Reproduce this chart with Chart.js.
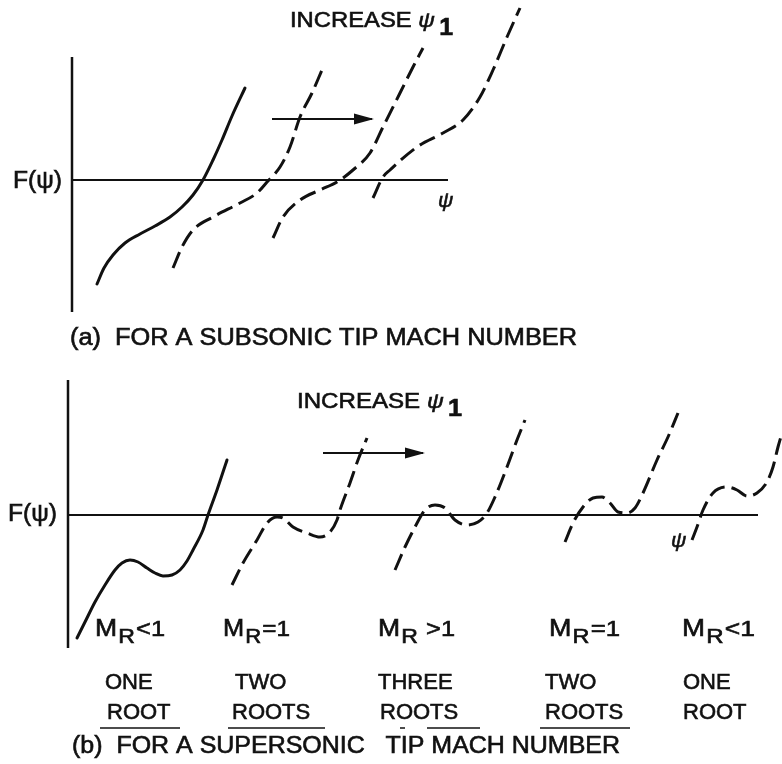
<!DOCTYPE html>
<html>
<head>
<meta charset="utf-8">
<title>F(psi) root sketches</title>
<script src="https://cdn.jsdelivr.net/npm/chart.js@4.4.1/dist/chart.umd.min.js"></script>
<style>
    html, body { margin: 0; padding: 0; background: #fff; }
    #wrap { position: relative; width: 782px; height: 764px; overflow: hidden; }
    #wrap canvas { position: absolute; left: 0; }
    #chartA { top: 0; }
    #chartB { top: 360px; }
</style>
</head>
<body>
<div id="wrap">
    <canvas id="chartA" width="782" height="360"></canvas>
    <canvas id="chartB" width="782" height="404"></canvas>
</div>
<script>
// ---- (a) subsonic tip Mach number: psi to the right, F(psi) up ----
var aSolidPsi = [2.5, 3.2, 4.1, 5.3, 6.8, 8.3, 9.8, 11.0, 12.1, 13.1, 14.1, 15.0, 16.0, 17.3];
var aSolidF   = [-10.4, -8.8, -7.5, -6.3, -5.4, -4.6, -3.7, -2.7, -1.5, 0, 2.0, 4.0, 6.4, 9.2];
var aDash1Psi = [10.1, 11.0, 12.1, 14.1, 16.8, 18.5, 19.5, 20.8, 21.8, 22.8, 24.0, 25.0];
var aDash1F   = [-8.8, -6.7, -5.0, -3.7, -2.3, -1.3, -0.2, 1.3, 3.3, 6.3, 8.7, 11.0];
var aDash2Psi = [20.1, 21.1, 22.8, 24.8, 26.5, 28.1, 29.8, 31.1, 32.8, 34.1, 35.1];
var aDash2F   = [-5.8, -3.7, -2.0, -1.0, -0.2, 1.0, 2.7, 5.3, 8.7, 11.3, 13.2];
var aDash3Psi = [30.1, 31.1, 31.8, 34.5, 37.1, 39.1, 40.8, 42.1, 43.5, 44.8];
var aDash3F   = [-1.8, 0.3, 1.0, 3.3, 4.7, 6.0, 8.3, 11.0, 14.3, 17.2];
var aAxisPsi  = [0, 0];
var aAxisF    = [12.3, -13.2];
var aLinePsi  = [0, 37.6];
var aLineF    = [0, 0];
var aArrowPsi = [20.0, 30.0];
var aArrowF   = [6.1, 6.1];

// ---- (b) supersonic tip Mach number ----
var bSolidPsi = [0.9, 1.7, 2.7, 3.7, 4.7, 5.4, 6.2, 7.0, 7.9, 8.7, 9.5, 10.4, 11.2, 11.9, 12.5, 13.5, 14.0, 14.9, 15.9];
var bSolidF   = [-12.3, -10.7, -8.7, -7.0, -5.5, -4.8, -4.5, -4.7, -5.3, -5.8, -6.1, -6.0, -5.5, -4.6, -3.5, -1.5, 0, 2.5, 5.5];
var bDash1Psi = [16.4, 17.5, 18.9, 19.9, 20.9, 21.5, 22.5, 23.9, 25.2, 26.2, 26.9, 27.2, 28.2, 29.0, 29.9];
var bDash1F   = [-7.0, -4.8, -2.5, -0.8, -0.2, -0.3, -1.2, -1.8, -2.2, -1.7, -0.5, 0.5, 3.2, 5.5, 7.7];
var bDash2Psi = [32.7, 33.7, 34.7, 35.7, 36.7, 37.7, 38.7, 39.9, 41.0, 41.9, 42.7, 43.9, 44.9, 45.7];
var bDash2F   = [-5.5, -3.2, -1.2, 0.5, 1.0, 0.7, -0.5, -1.0, -0.7, 0.2, 1.8, 4.8, 7.5, 9.5];
var bDash3Psi = [49.7, 50.5, 51.5, 52.5, 53.4, 54.2, 55.0, 55.9, 56.7, 57.5, 58.9, 60.0, 61.0];
var bDash3F   = [-2.7, -0.8, 0.8, 1.7, 1.8, 1.2, 0.3, 0.2, 0.7, 2.2, 5.5, 7.8, 10.2];
var bDash4Psi = [62.4, 62.9, 63.5, 64.5, 65.9, 66.9, 67.9, 68.9, 69.9, 70.5, 71.0, 71.4];
var bDash4F   = [-2.5, -1.2, 0.5, 2.2, 2.8, 2.5, 1.9, 2.2, 3.3, 4.8, 6.8, 8.2];
var bAxisPsi  = [0, 0];
var bAxisF    = [13.5, -13.3];
var bLinePsi  = [0, 69.0];
var bLineF    = [0, 0];
var bArrowPsi = [25.5, 35.5];
var bArrowF   = [6.2, 6.2];

// underlines under the ROOT(S) words, [start, end] in psi
var underlinePsi = [[3.2, 11.2], [16.0, 25.7], [33.2, 33.7], [35.9, 41.2], [47.2, 56.2]];

// texts
var mrSigns    = ['<1', '=1', ' >1', '=1', '<1'];
var rootCounts = ['ONE', 'TWO', 'THREE', 'TWO', 'ONE'];
var rootWords  = ['ROOT', 'ROOTS', 'ROOTS', 'ROOTS', 'ROOT'];
var captionA   = '(a)  FOR A SUBSONIC TIP MACH NUMBER';
var captionB   = '(b)  FOR A SUPERSONIC   TIP MACH NUMBER';

// label anchors (data units of panel b) and drawn widths (px)
var mrPsi    = [2.7, 15.5, 31.0, 48.1, 61.4];
var mrWidth  = [70, 67, 77, 71, 73];
var countPsi = [3.7, 16.7, 31.0, 47.7, 61.5];
var wordPsi  = [3.9, 16.4, 31.2, 47.7, 61.5];

var FONT = '"Liberation Sans", Arial, Helvetica, sans-serif';
var INK = '#111';

function pts(xs, ys) {
    return xs.map(function (x, i) { return { x: x, y: ys[i] }; });
}

function line(xs, ys, width, dashed, extra) {
    var ds = {
        data: pts(xs, ys),
        showLine: true,
        borderColor: INK,
        backgroundColor: INK,
        borderWidth: width,
        borderDash: dashed ? [17, 7] : [],
        borderCapStyle: dashed ? 'butt' : 'round',
        pointRadius: 0,
        pointHoverRadius: 0,
        fill: false,
        cubicInterpolationMode: 'monotone'
    };
    if (extra) { Object.keys(extra).forEach(function (k) { ds[k] = extra[k]; }); }
    return ds;
}

// run of text pieces (for subscripts), fitted to a width if given
function drawRuns(ctx, x, y, runs, width, align) {
    var total = 0;
    runs.forEach(function (r) {
        ctx.font = r.font;
        total += ctx.measureText(r.t).width + (r.gap || 0);
    });
    var k = width ? width / total : 1;
    ctx.save();
    ctx.translate(x, y);
    ctx.scale(k, 1);
    var cx = align === 'right' ? -total : 0;
    ctx.textAlign = 'left';
    runs.forEach(function (r) {
        ctx.font = r.font;
        ctx.fillText(r.t, cx, r.dy || 0);
        ctx.strokeText(r.t, cx, r.dy || 0);
        cx += ctx.measureText(r.t).width + (r.gap || 0);
    });
    ctx.restore();
}

// arrowheads on datasets flagged with isArrow, text labels from options
var sketchPlugin = {
    id: 'sketch',
    afterDatasetsDraw: function (chart) {
        var ctx = chart.ctx;
        chart.data.datasets.forEach(function (ds, i) {
            if (!ds.isArrow) return;
            var meta = chart.getDatasetMeta(i);
            var p0 = meta.data[meta.data.length - 2];
            var p1 = meta.data[meta.data.length - 1];
            var ang = Math.atan2(p1.y - p0.y, p1.x - p0.x);
            ctx.save();
            ctx.translate(p1.x, p1.y);
            ctx.rotate(ang);
            ctx.fillStyle = INK;
            ctx.beginPath();
            ctx.moveTo(2, 0);
            ctx.lineTo(-18, -5.5);
            ctx.lineTo(-18, 5.5);
            ctx.closePath();
            ctx.fill();
            ctx.restore();
        });
    },
    afterDraw: function (chart) {
        var ctx = chart.ctx;
        var sx = chart.scales.x, sy = chart.scales.y;
        var labels = chart.options.plugins.sketch.labels || [];
        ctx.save();
        ctx.fillStyle = INK;
        ctx.strokeStyle = INK;
        ctx.lineWidth = 0.6;
        ctx.textBaseline = 'middle';
        labels.forEach(function (l) {
            var x = sx.getPixelForValue(l.psi);
            var y = sy.getPixelForValue(l.f);
            var runs = l.runs || [{ t: l.text, font: l.font }];
            drawRuns(ctx, x, y, runs, l.width, l.align);
        });
        ctx.restore();
    }
};

function baseOptions(xMin, xMax, yMin, yMax, labels) {
    return {
        responsive: false,
        animation: false,
        events: [],
        layout: { padding: 0 },
        plugins: {
            legend: { display: false },
            tooltip: { enabled: false },
            sketch: { labels: labels }
        },
        scales: {
            x: { type: 'linear', min: xMin, max: xMax, display: false },
            y: { type: 'linear', min: yMin, max: yMax, display: false }
        }
    };
}

function increaseRuns(size) {
    return [
        { t: 'INCREASE ', font: size + 'px ' + FONT },
        { t: '\u03C8', font: 'italic ' + (size - 1) + 'px ' + FONT, gap: 4 },
        { t: '1', font: 'bold ' + (size + 1) + 'px ' + FONT, dy: 8 }
    ];
}

// ---- panel (a) ----
var labelsA = [
    { text: 'F(\u03C8)', psi: -1.0, f: -0.2, font: '23px ' + FONT, align: 'right', width: 49 },
    { text: '\u03C8', psi: 36.6, f: -2.1, font: 'italic 21px ' + FONT },
    { psi: 21.8, f: 15.9, runs: increaseRuns(22), width: 163 },
    { text: captionA, psi: -0.2, f: -15.9, font: '23px ' + FONT, width: 507 }
];

new Chart(document.getElementById('chartA'), {
    type: 'scatter',
    data: {
        datasets: [
            line(aAxisPsi, aAxisF, 2.5, false, { borderCapStyle: 'butt' }),
            line(aLinePsi, aLineF, 2, false, { borderCapStyle: 'butt' }),
            line(aArrowPsi, aArrowF, 2, false, { isArrow: true, borderCapStyle: 'butt' }),
            line(aSolidPsi, aSolidF, 3, false),
            line(aDash1Psi, aDash1F, 3, true),
            line(aDash2Psi, aDash2F, 3, true),
            line(aDash3Psi, aDash3F, 3, true)
        ]
    },
    options: baseOptions(-7.2, 71.0, -18.0, 18.0, labelsA),
    plugins: [sketchPlugin]
});

// ---- panel (b) ----
var labelsB = [
    { text: 'F(\u03C8)', psi: -1.1, f: 0, font: '23px ' + FONT, align: 'right', width: 49 },
    { text: '\u03C8', psi: 60.3, f: -2.6, font: 'italic 21px ' + FONT },
    { psi: 22.9, f: 11.3, runs: increaseRuns(22), width: 165 },
    { text: captionB, psi: 0.4, f: -23.2, font: '23px ' + FONT, width: 548 }
];
mrSigns.forEach(function (s, i) {
    labelsB.push({ psi: mrPsi[i], f: -11.5, width: mrWidth[i], runs: [
        { t: 'M', font: '23px ' + FONT, gap: 1 },
        { t: 'R', font: '20px ' + FONT, dy: 7, gap: 1 },
        { t: s, font: '22px ' + FONT }
    ] });
    labelsB.push({ text: rootCounts[i], psi: countPsi[i], f: -16.8, font: '22px ' + FONT });
    labelsB.push({ text: rootWords[i], psi: wordPsi[i], f: -19.8, font: '22px ' + FONT });
});

var datasetsB = [
    line(bAxisPsi, bAxisF, 2.5, false, { borderCapStyle: 'butt' }),
    line(bLinePsi, bLineF, 2, false, { borderCapStyle: 'butt' }),
    line(bArrowPsi, bArrowF, 2, false, { isArrow: true, borderCapStyle: 'butt' }),
    line(bSolidPsi, bSolidF, 3, false),
    line(bDash1Psi, bDash1F, 3, true),
    line(bDash2Psi, bDash2F, 3, true),
    line(bDash3Psi, bDash3F, 3, true),
    line(bDash4Psi, bDash4F, 3, true)
];
underlinePsi.forEach(function (u) {
    datasetsB.push(line(u, [-21.3, -21.3], 1.5, false, { borderCapStyle: 'butt' }));
});

new Chart(document.getElementById('chartB'), {
    type: 'scatter',
    data: { datasets: datasetsB },
    options: baseOptions(-6.8, 71.4, -24.9, 15.5, labelsB),
    plugins: [sketchPlugin]
});
</script>
</body>
</html>
